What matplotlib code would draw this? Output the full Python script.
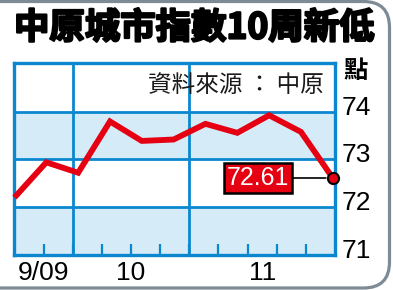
import matplotlib
matplotlib.use("Agg")
import matplotlib.pyplot as plt
import numpy as np
from matplotlib.patches import FancyBboxPatch
import matplotlib.transforms as mtrans
import matplotlib.patheffects as pe

# ---------------- data ----------------
title = "中原城市指數10周新低"
source = "資料來源 ： 中原"
unit = "點"
values = [72.20, 72.94, 72.72, 73.80, 73.39, 73.42, 73.75, 73.56, 73.93, 73.58, 72.61]
last_label = "72.61"
y_ticks = [71, 72, 73, 74]
month_labels = ["9/09", "10", "11"]
month_tick_pos = [1, 4, 8.5]      # in minor-tick units
n_minor = 11                      # number of minor-tick intervals on x axis
major_ticks = [2, 6]              # minor-tick indices with full grid lines

# ---------------- style ----------------
BLUE = "#0a87cf"
BAND = "#d5ebf8"
RED = "#e50012"
FRAME = "#7d8b97"
CJK = ["Noto Sans CJK TC", "DejaVu Sans"]
SANS = ["Liberation Sans", "DejaVu Sans"]

W, H = 393, 290
fig = plt.figure(figsize=(W / 100, H / 100), dpi=100)

bg = fig.add_axes([0, 0, 1, 1])
bg.set_xlim(0, W)
bg.set_ylim(H, 0)
bg.axis("off")
frame = FancyBboxPatch((-40, 1.5), W - 3.5 + 40, H - 3.5,
                       boxstyle="round,pad=0,rounding_size=26",
                       fc="white", ec=FRAME, lw=2.3)
bg.add_patch(frame)

bg.text(14, 28, title, fontsize=25.5, fontweight="black", family=CJK,
        ha="left", va="center", color="black",
        path_effects=[pe.withStroke(linewidth=1.6, foreground="black")])
bg.text(343, 71, unit, fontsize=17.5, fontweight="bold", family=CJK,
        ha="left", va="center", color="black")

# main plot axes
x0, x1, yb, yt = 14.5, 335, 254.5, 63
ax = fig.add_axes([x0 / W, 1 - yb / H, (x1 - x0) / W, (yb - yt) / H])
ax.set_facecolor("white")
xmax = len(values) - 1 + 0.07
ax.set_xlim(0, xmax)
ax.set_ylim(71, 75.03)
u = xmax / n_minor

ax.axhspan(71, 72, color=BAND, lw=0, zorder=0)
ax.axhspan(73, 74, color=BAND, lw=0, zorder=0)
for v in y_ticks[1:]:
    ax.axhline(v, color=BLUE, lw=2.0, zorder=1)
for k in major_ticks:
    ax.axvline(k * u, color=BLUE, lw=2.0, zorder=1)

ax.set_xticks([k * u for k in range(1, n_minor)])
ax.set_xticklabels([])
ax.tick_params(axis="x", direction="in", length=8, width=1.6, color=BLUE)
ax.set_yticks([])
for s in ax.spines.values():
    s.set_color(BLUE)
    s.set_linewidth(2.4)
    s.set_zorder(3)

# right-side y labels
ytr = mtrans.blended_transform_factory(ax.transAxes, ax.transData)
for v in y_ticks:
    ax.annotate(str(v), xy=(1, v), xycoords=ytr, xytext=(7, 4),
                textcoords="offset pixels", ha="left", va="center",
                fontsize=19, family=SANS, color="black", annotation_clip=False)

# month labels
for lab, p in zip(month_labels, month_tick_pos):
    ax.annotate(lab, xy=(p * u, 71), xytext=(0, -18), textcoords="offset pixels",
                ha="center", va="center", fontsize=19, family=SANS,
                color="black", annotation_clip=False)

# source
ax.text(0.965, 0.88, source, transform=ax.transAxes, ha="right", va="center",
        fontsize=17, family=CJK, fontweight="light", color="#1a1a1a", zorder=4)

# data line
xs = np.arange(len(values))
ax.plot(xs, values, color=RED, lw=4.2, solid_joinstyle="miter",
        solid_capstyle="butt", zorder=5, clip_on=False)
ax.plot(xs[-1], values[-1], "o", ms=8, mfc=RED, mec="black", mew=1.5,
        zorder=7, clip_on=False)

ax.annotate(last_label, xy=(xs[-1], values[-1]), xytext=(-75, 0),
            textcoords="offset pixels", ha="center", va="center",
            fontsize=18, family=SANS, color="white", zorder=6,
            bbox=dict(boxstyle="square,pad=0.12", fc=RED, ec="black", lw=1.8),
            arrowprops=dict(arrowstyle="-", color="black", lw=1.2,
                            shrinkA=0, shrinkB=5))

fig.savefig("out.png", dpi=100)
